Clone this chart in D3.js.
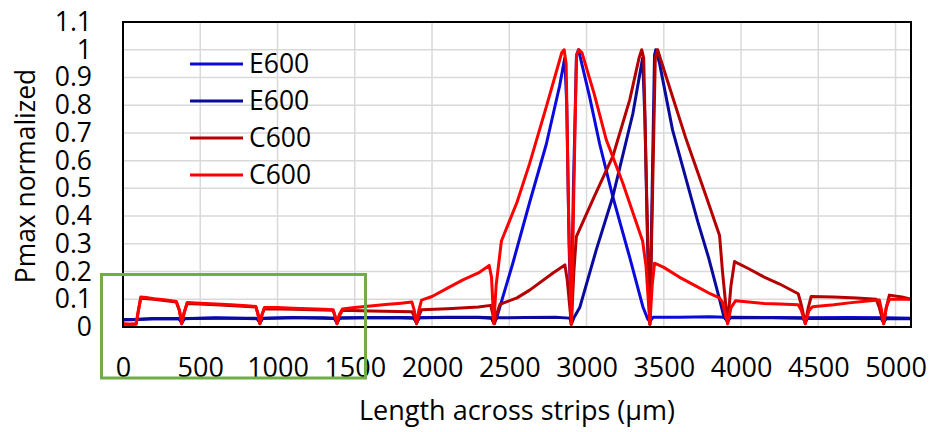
<!DOCTYPE html>
<html><head><meta charset="utf-8">
<script src="https://cdn.jsdelivr.net/npm/d3@7"></script>
<style>body{margin:0;background:#fff}</style>
</head><body>
<svg id="c" width="933" height="432"></svg>
<script>
const xTicks = [0,500,1000,1500,2000,2500,3000,3500,4000,4500,5000];
const yTicks = [0,0.1,0.2,0.3,0.4,0.5,0.6,0.7,0.8,0.9,1,1.1];
const seriesNames = ["E600","E600","C600","C600"];
const seriesColors = ["#0a0adc","#0a0a9c","#b40000","#ff0000"];

// E600 (first, bright blue)
const e600a = [[0,0.025],[100,0.027],[200,0.03],[300,0.031],[362,0.03],[380,0.016],[398,0.03],[600,0.033],[800,0.031],[868,0.03],[886,0.016],[904,0.031],[1100,0.034],[1300,0.032],[1367,0.031],[1385,0.016],[1403,0.032],[1600,0.034],[1800,0.033],[1882,0.032],[1900,0.016],[1918,0.033],[2100,0.035],[2300,0.034],[2385,0.032],[2400,0.015],[2417,0.03],[2523,0.23],[2632,0.45],[2740,0.66],[2826,0.87],[2859,0.97],[2872,0.8],[2887,0.3],[2900,0.01],[2915,0.5],[2935,0.98],[2948,1.0],[3020,0.83],[3085,0.66],[3170,0.47],[3280,0.25],[3364,0.074],[3395,0.03],[3410,0.02],[3430,0.035],[3600,0.035],[3800,0.037],[3895,0.035],[3913,0.02],[3930,0.035],[4200,0.034],[4400,0.033],[4416,0.02],[4432,0.033],[4700,0.034],[4905,0.033],[4923,0.02],[4940,0.033],[5100,0.032]];

// E600 (second, dark blue)
const e600b = [[0,0.027],[100,0.028],[200,0.031],[300,0.03],[362,0.031],[380,0.016],[398,0.031],[600,0.032],[800,0.032],[868,0.031],[886,0.016],[904,0.032],[1100,0.033],[1300,0.033],[1367,0.032],[1385,0.016],[1403,0.033],[1600,0.033],[1800,0.034],[1882,0.033],[1900,0.016],[1918,0.033],[2100,0.034],[2300,0.035],[2385,0.033],[2400,0.015],[2417,0.033],[2600,0.034],[2800,0.035],[2890,0.032],[2905,0.015],[2920,0.035],[2956,0.07],[3064,0.28],[3170,0.47],[3300,0.77],[3363,0.97],[3378,0.75],[3395,0.3],[3410,0.01],[3425,0.5],[3440,0.98],[3448,1.0],[3473,0.95],[3557,0.71],[3646,0.53],[3720,0.38],[3790,0.25],[3861,0.1],[3890,0.035],[3913,0.02],[3930,0.034],[4200,0.033],[4400,0.032],[4416,0.018],[4432,0.032],[4700,0.031],[4905,0.032],[4923,0.018],[4940,0.031],[5100,0.03]];

// C600 (first, dark red)
const c600a = [[0,0.01],[85,0.01],[100,0.06],[115,0.104],[200,0.1],[345,0.09],[365,0.06],[380,0.012],[395,0.05],[415,0.085],[600,0.08],[860,0.072],[872,0.05],[886,0.012],[900,0.045],[915,0.066],[1100,0.064],[1360,0.06],[1372,0.04],[1385,0.012],[1400,0.04],[1420,0.06],[1600,0.058],[1870,0.055],[1885,0.04],[1900,0.012],[1915,0.04],[1932,0.062],[2100,0.066],[2300,0.072],[2380,0.078],[2392,0.05],[2405,0.012],[2420,0.05],[2440,0.082],[2550,0.105],[2632,0.133],[2783,0.195],[2860,0.224],[2875,0.17],[2902,0.01],[2918,0.2],[2934,0.326],[3050,0.47],[3170,0.615],[3280,0.82],[3340,0.97],[3357,1.0],[3370,0.97],[3388,0.5],[3410,0.01],[3428,0.5],[3445,0.97],[3460,1.0],[3517,0.9],[3646,0.675],[3775,0.47],[3861,0.33],[3880,0.2],[3913,0.012],[3935,0.15],[3958,0.236],[4050,0.21],[4150,0.18],[4250,0.155],[4370,0.12],[4390,0.08],[4416,0.012],[4435,0.07],[4454,0.11],[4600,0.108],[4750,0.105],[4875,0.1],[4895,0.07],[4923,0.012],[4940,0.07],[4960,0.115],[5040,0.108],[5100,0.1]];

// C600 (second, bright red)
const c600b = [[0,0.012],[40,0.01],[85,0.012],[100,0.06],[115,0.108],[150,0.106],[200,0.102],[250,0.099],[300,0.096],[345,0.092],[365,0.06],[380,0.012],[395,0.05],[415,0.088],[500,0.086],[600,0.083],[700,0.08],[800,0.077],[860,0.074],[872,0.05],[886,0.012],[900,0.045],[915,0.07],[1000,0.07],[1100,0.068],[1200,0.066],[1300,0.064],[1360,0.062],[1372,0.04],[1385,0.012],[1400,0.045],[1420,0.065],[1500,0.07],[1600,0.076],[1700,0.081],[1800,0.086],[1870,0.09],[1885,0.06],[1900,0.012],[1915,0.06],[1932,0.097],[2000,0.11],[2100,0.14],[2200,0.17],[2300,0.195],[2370,0.222],[2385,0.18],[2400,0.012],[2415,0.15],[2449,0.31],[2550,0.45],[2632,0.59],[2740,0.795],[2840,0.99],[2855,1.0],[2868,0.95],[2884,0.4],[2902,0.01],[2918,0.5],[2935,0.98],[2950,1.0],[2970,0.99],[3050,0.84],[3128,0.675],[3234,0.52],[3363,0.31],[3385,0.22],[3410,0.01],[3425,0.15],[3440,0.23],[3500,0.215],[3600,0.18],[3700,0.15],[3800,0.12],[3860,0.105],[3880,0.09],[3913,0.012],[3935,0.07],[3965,0.095],[4050,0.09],[4150,0.085],[4250,0.083],[4370,0.08],[4390,0.06],[4416,0.012],[4440,0.06],[4463,0.073],[4600,0.08],[4700,0.087],[4800,0.093],[4895,0.097],[4910,0.06],[4923,0.012],[4940,0.07],[4960,0.1],[5040,0.1],[5100,0.1]];

const allSeries = [e600a, e600b, c600a, c600b];

const svg = d3.select("#c");
const FONT = "'Open Sans', sans-serif";
const L = 123, R = 911, T = 22, B = 327;
const x = d3.scaleLinear().domain([0, 5100]).range([L, R]);
const y = d3.scaleLinear().domain([0, 1.1]).range([B, T]);

// gridlines
svg.append("g").selectAll("line").data(yTicks.slice(1)).join("line")
  .attr("x1", L).attr("x2", R).attr("y1", d => y(d)).attr("y2", d => y(d))
  .attr("stroke", "#d9d9d9").attr("stroke-width", 1.5);
svg.append("g").selectAll("line").data(xTicks.slice(1)).join("line")
  .attr("x1", d => x(d)).attr("x2", d => x(d)).attr("y1", T).attr("y2", B)
  .attr("stroke", "#d9d9d9").attr("stroke-width", 1.5);

// series
const line = d3.line().x(d => x(d[0])).y(d => y(d[1]));
allSeries.forEach((s, i) => {
  svg.append("path").datum(s).attr("d", line)
    .attr("fill", "none").attr("stroke", seriesColors[i])
    .attr("stroke-width", 3).attr("stroke-linejoin", "round");
});

// border
svg.append("rect").attr("x", L).attr("y", T).attr("width", R - L).attr("height", B - T)
  .attr("fill", "none").attr("stroke", "#000").attr("stroke-width", 2);

// y axis labels
const yAxis = d3.axisLeft(y).tickValues(yTicks).tickSize(0).tickPadding(0)
  .tickFormat(d => d3.format("~g")(+d.toFixed(1)));
const gy = svg.append("g").attr("transform", `translate(92,0)`).call(yAxis);
gy.select(".domain").remove();
gy.selectAll("text").attr("font-family", FONT).attr("font-size", 26.5).attr("fill", "#000");

// x axis labels
const xAxis = d3.axisBottom(x).tickValues(xTicks).tickSize(0).tickPadding(0)
  .tickFormat(d3.format("d"));
const gx = svg.append("g").attr("transform", `translate(0,358)`).call(xAxis);
gx.select(".domain").remove();
gx.selectAll("text").attr("font-family", FONT).attr("font-size", 27).attr("fill", "#000").attr("dy", "0.71em");

// axis titles
svg.append("text").attr("transform", "translate(35,176) rotate(-90)")
  .attr("text-anchor", "middle").attr("font-family", FONT).attr("font-size", 26.4)
  .text("Pmax normalized");
svg.append("text").attr("x", 517).attr("y", 420).attr("text-anchor", "middle")
  .attr("font-family", FONT).attr("font-size", 27).text("Length across strips (μm)");

// legend
const leg = svg.append("g");
seriesNames.forEach((n, i) => {
  const yy = 64 + i * 37;
  leg.append("line").attr("x1", 190).attr("x2", 243).attr("y1", yy).attr("y2", yy)
    .attr("stroke", seriesColors[i]).attr("stroke-width", 3);
  leg.append("text").attr("x", 249).attr("y", yy).attr("dy", "0.35em")
    .attr("font-family", FONT).attr("font-size", 26.5).text(n);
});

// green highlight box
svg.append("rect").attr("x", 101.5).attr("y", 274.5).attr("width", 264).attr("height", 103.5)
  .attr("fill", "none").attr("stroke", "#70ad47").attr("stroke-width", 3);
</script>
</body></html>
